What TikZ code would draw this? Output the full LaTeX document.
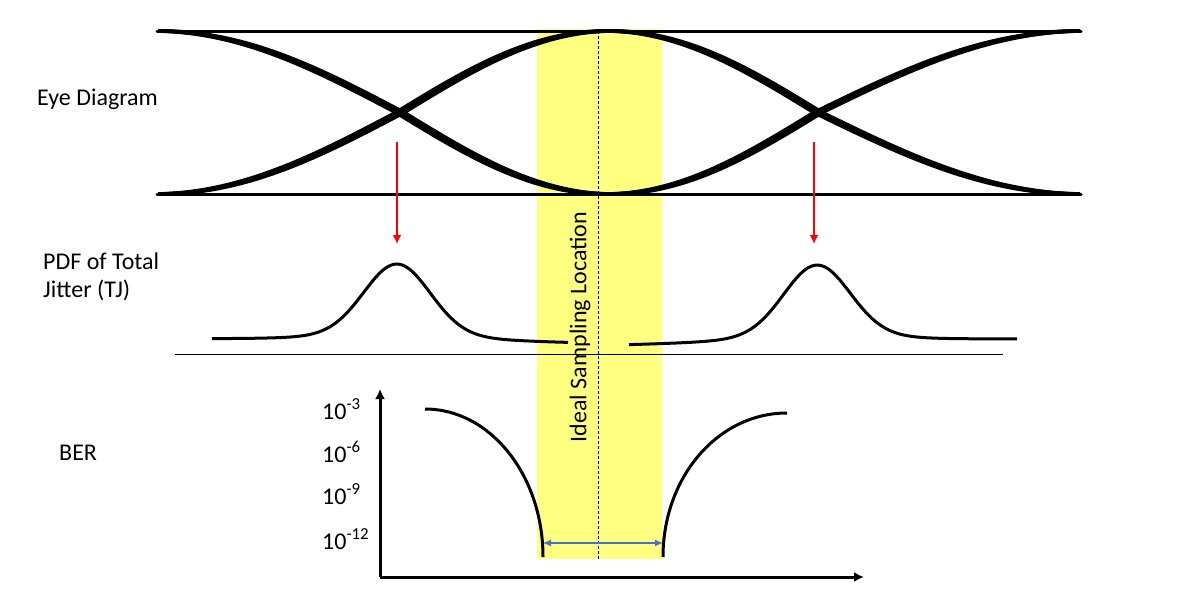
\documentclass[tikz,border=0pt]{standalone}
\usepackage{fontspec}
\setmainfont{Carlito}
\usetikzlibrary{arrows.meta}
\definecolor{bandyellow}{RGB}{255,255,128}
\definecolor{arrowblue}{RGB}{68,114,196}
\definecolor{arrowred}{RGB}{255,0,0}
\begin{document}
\begin{tikzpicture}[x=1pt,y=-1pt,
  lbl/.style={font=\fontsize{24}{27.5}\selectfont, inner sep=0pt, anchor=base west},
  eyeline/.style={line width=3pt, line cap=round},
  eyetrace/.style={line width=3.6pt},
  pdfcurve/.style={line width=3pt},
  axisline/.style={line width=3pt, -{Latex[length=10pt,width=10pt]}},
  redarrow/.style={draw=arrowred, line width=2.6pt, -{Latex[length=9pt,width=9pt]}},
  bluearrow/.style={draw=arrowblue, line width=1.2pt, {Latex[length=8pt,width=7pt]}-{Latex[length=8pt,width=7pt]}},
  bercurve/.style={line width=3pt}
]
\useasboundingbox (0,0) rectangle (1182,606);

% yellow sampling band
\fill[bandyellow] (537,29) rectangle (662,559);

% eye diagram
\draw[eyeline] (157,31) -- (1081,31);
\draw[eyeline] (157,194) -- (1081,194);
\begin{scope}
\clip (158,20) rectangle (1080,205);
\foreach \s in {-4.2,-1.4,1.4,4.2}{
  \draw[eyetrace] plot[domain=157:400, samples=60] ({\x+\s}, {112.5-81.5*cos((\x-157)/243*90)});
  \draw[eyetrace] plot[domain=157:400, samples=60] ({\x+\s}, {112.5+81.5*cos((\x-157)/243*90)});
  \draw[eyetrace] plot[domain=400:818, samples=100] ({\x+\s}, {112.5+81.5*sin((\x-400)/418*180)});
  \draw[eyetrace] plot[domain=400:818, samples=100] ({\x+\s}, {112.5-81.5*sin((\x-400)/418*180)});
  \draw[eyetrace] plot[domain=818:1081, samples=60] ({\x+\s}, {112.5-81.5*sin((\x-818)/263*90)});
  \draw[eyetrace] plot[domain=818:1081, samples=60] ({\x+\s}, {112.5+81.5*sin((\x-818)/263*90)});
}
\end{scope}

% dashed ideal sampling line
\coordinate (dtop) at (598,31);
\coordinate (dbot) at (598,559);
\draw[line width=0.8pt, dash pattern=on 3pt off 2pt] (dtop) -- (dbot);

% red arrows
\coordinate (ra1) at (397,142);
\coordinate (ra2) at (397,244);
\coordinate (rb1) at (814,142);
\coordinate (rb2) at (814,244);
\draw[redarrow] (ra1) -- (ra2);
\draw[redarrow] (rb1) -- (rb2);

% PDF curves
\draw[pdfcurve] plot[domain=212:568, samples=200]
  (\x, {340+(\x-212)/89 - 64*exp(-((\x-397)/46.67)^2) - 14/(1+((\x-397)/62)^2)});
\draw[pdfcurve] plot[domain=629:1017, samples=200]
  (\x, {346-(\x-629)/64.67 - 64*exp(-((\x-817)/46.67)^2) - 14/(1+((\x-817)/62)^2)});

% separator line
\coordinate (sepl) at (175,354);
\coordinate (sepr) at (1003,354);
\draw[line width=1pt] (sepl) -- (sepr);

% BER axes
\coordinate (origin) at (380,577);
\coordinate (ytip) at (380,389);
\coordinate (xtip) at (864,577);
\draw[axisline] (origin) -- (ytip);
\draw[axisline] (origin) -- (xtip);

% BER curves
\draw[bercurve] (425,409) .. controls (490,409) and (543,475) .. (543,557);
\draw[bercurve] (663,557) .. controls (663,477) and (718,413) .. (787,413);

% blue eye-opening arrow
\coordinate (bl) at (543,543);
\coordinate (br) at (663,543);
\draw[bluearrow] (bl) -- (br);

% labels
\node[lbl] (eye) at (37,105) {Eye Diagram};
\node[lbl, align=left] (pdf) at (43,297) {PDF of Total\\Jitter (TJ)};
\node[lbl] (ber) at (59,460) {BER};
\node[lbl] (e3) at (322,419) {10\textsuperscript{-3}};
\node[lbl] (e6) at (322,462) {10\textsuperscript{-6}};
\node[lbl] (e9) at (322,504) {10\textsuperscript{-9}};
\node[lbl] (e12) at (322,549) {10\textsuperscript{-12}};
\node[font=\fontsize{24}{27.5}\selectfont, inner sep=0pt, rotate=90] (isl) at (580,327) {Ideal Sampling Location};
\end{tikzpicture}
\end{document}
